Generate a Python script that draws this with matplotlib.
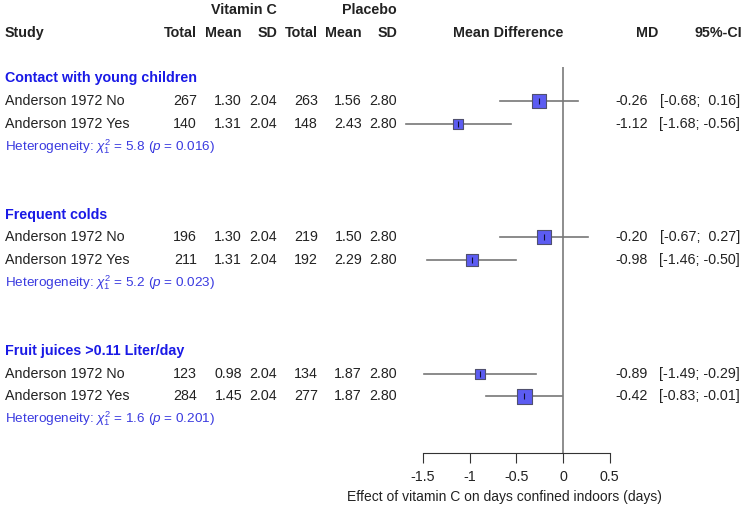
import matplotlib
matplotlib.use("Agg")
import matplotlib.pyplot as plt
import matplotlib.transforms as mtransforms
import numpy as np

plt.rcParams['font.family'] = ['Liberation Sans', 'DejaVu Sans']
plt.rcParams['mathtext.fontset'] = 'custom'
plt.rcParams['mathtext.rm'] = 'Liberation Sans'
plt.rcParams['mathtext.it'] = 'Liberation Sans:italic'

# data
groups = ["Contact with young children", "Frequent colds", "Fruit juices >0.11 Liter/day"]
studies = ["Anderson 1972 No", "Anderson 1972 Yes"] * 3
n_vit = [267, 140, 196, 211, 123, 284]
mean_vit = [1.30, 1.31, 1.30, 1.31, 0.98, 1.45]
sd_vit = [2.04, 2.04, 2.04, 2.04, 2.04, 2.04]
n_pla = [263, 148, 219, 192, 134, 277]
mean_pla = [1.56, 2.43, 1.50, 2.29, 1.87, 1.87]
sd_pla = [2.80, 2.80, 2.80, 2.80, 2.80, 2.80]
md = [-0.26, -1.12, -0.20, -0.98, -0.89, -0.42]
ci_low = [-0.68, -1.68, -0.67, -1.46, -1.49, -0.83]
ci_high = [0.16, -0.56, 0.27, -0.50, -0.29, -0.01]
het_q = [5.8, 5.2, 1.6]
het_p = ["0.016", "0.023", "0.201"]
x_ticks = [-1.5, -1, -0.5, 0, 0.5]
x_tick_labels = ["-1.5", "-1", "-0.5", "0", "0.5"]

W, H = 744, 513
row_px = 22.7
top_px = 33.0
zero_px = 563.0
unit_px = 93.33

fig = plt.figure(figsize=(W / 100, H / 100), dpi=100)

# forest panel: y in row units (row 0 = column header line)
y_top, y_bot = 1.5, 18.5
ax_left, ax_right = 400, 640
ax = fig.add_axes([ax_left / W, 1 - (top_px + y_bot * row_px) / H,
                   (ax_right - ax_left) / W, (y_bot - y_top) * row_px / H])
ax.set_xlim((ax_left - zero_px) / unit_px, (ax_right - zero_px) / unit_px)
ax.set_ylim(y_bot, y_top)
for s in ["top", "right", "left"]:
    ax.spines[s].set_visible(False)
ax.spines["bottom"].set_bounds(x_ticks[0], x_ticks[-1])
ax.spines["bottom"].set_color("#333333")
ax.set_yticks([])
ax.set_xticks(x_ticks)
ax.set_xticklabels(x_tick_labels, fontsize=10.3, color="#222222")
ax.tick_params(axis="x", length=7, color="#333333", pad=5)
ax.patch.set_alpha(0)

ax.axvline(0, color="#7a7a7a", lw=1.2, zorder=1)

tr = mtransforms.blended_transform_factory(fig.transFigure, ax.transData)


def put(px, row, s, ha="left", **kw):
    kw.setdefault("fontsize", 10.3)
    kw.setdefault("color", "#222222")
    ax.text(px / W, row, s, ha=ha, va="center", transform=tr, clip_on=False, **kw)


# header
put(277, -1, "Vitamin C", ha="right", fontweight="bold")
put(397, -1, "Placebo", ha="right", fontweight="bold")
put(5, 0, "Study", fontweight="bold")
for px, lab in zip([197, 242, 277, 318, 362, 397],
                   ["Total", "Mean", "SD", "Total", "Mean", "SD"]):
    put(px, 0, lab, ha="right", fontweight="bold")
put(508, 0, "Mean Difference", ha="center", fontweight="bold")
put(658, 0, "MD", ha="right", fontweight="bold")
put(742, 0, "95%-CI", ha="right", fontweight="bold")

# weights for square sizes from the CI widths
se = (np.array(ci_high) - np.array(ci_low)) / 3.92
w = 1 / se ** 2
side_px = 15 * np.sqrt(w / w.max())

for g, name in enumerate(groups):
    base = 2 + 6 * g
    put(5, base, name, fontweight="bold", color="#1a1ae6")
    for j in range(2):
        i = 2 * g + j
        r = base + 1 + j
        put(5, r, studies[i])
        put(197, r, f"{n_vit[i]}", ha="right")
        put(242, r, f"{mean_vit[i]:.2f}", ha="right")
        put(277, r, f"{sd_vit[i]:.2f}", ha="right")
        put(318, r, f"{n_pla[i]}", ha="right")
        put(362, r, f"{mean_pla[i]:.2f}", ha="right")
        put(397, r, f"{sd_pla[i]:.2f}", ha="right")
        put(648, r, f"{md[i]:.2f}", ha="right")
        hi = f"{ci_high[i]:.2f}" if ci_high[i] < 0 else f" {ci_high[i]:.2f}"
        put(740, r, f"[{ci_low[i]:.2f}; {hi}]", ha="right")
        ax.plot([ci_low[i], ci_high[i]], [r, r], color="#777777", lw=1.2, zorder=2,
                clip_on=False)
        ax.scatter([md[i]], [r], marker="s", s=(side_px[i] * 0.72) ** 2,
                   color="#5c5cf2", edgecolors="#50506e", linewidths=0.8, zorder=3)
        ax.scatter([md[i]], [r], marker="|", s=14, color="#111133", linewidths=0.8,
                   zorder=4)
    put(5, base + 3,
        rf"Heterogeneity: $\chi^2_1$ = {het_q[g]:.1f} ($p$ = {het_p[g]})",
        fontsize=9.7, color="#3a3ae0")

put(504, 20.45, "Effect of vitamin C on days confined indoors (days)", ha="center",
    fontsize=10)

fig.savefig("out.png", dpi=100)
